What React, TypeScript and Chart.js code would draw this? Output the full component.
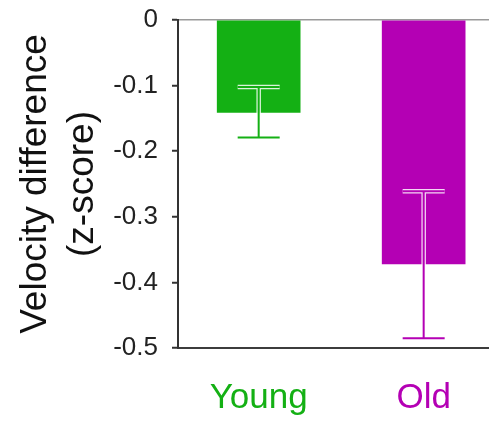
import React, { useEffect, useRef } from 'react';
import { Chart, registerables } from 'chart.js';

Chart.register(...registerables);

const categories = ['Young', 'Old'];
const meanValues = [-0.141, -0.372];
const errorUpper = [-0.102, -0.261];
const errorLower = [-0.179, -0.485];
const barColors = ['#14b014', '#b400b4'];
const yTickValues = [0, -0.1, -0.2, -0.3, -0.4, -0.5];
const yTitle = ['Velocity difference', '(z-score)'];

const FONT = "'Liberation Sans', Arial, Helvetica, sans-serif";

const errorBarPlugin = {
  id: 'errorBars',
  afterDatasetsDraw(chart: any) {
    const { ctx, scales } = chart;
    const xs = scales.x;
    const ys = scales.y;
    const capHalf = 21;
    ctx.save();
    categories.forEach((_, i) => {
      const x = xs.getPixelForValue(i);
      const yT = ys.getPixelForValue(errorUpper[i]);
      const yB = ys.getPixelForValue(errorLower[i]);
      const path = () => {
        ctx.beginPath();
        ctx.moveTo(x - capHalf, yT);
        ctx.lineTo(x + capHalf, yT);
        ctx.moveTo(x, yT);
        ctx.lineTo(x, yB);
        ctx.moveTo(x - capHalf, yB);
        ctx.lineTo(x + capHalf, yB);
      };
      path();
      ctx.strokeStyle = 'rgba(255,255,255,0.85)';
      ctx.lineWidth = 4.5;
      ctx.lineCap = 'butt';
      ctx.stroke();
      path();
      ctx.strokeStyle = barColors[i];
      ctx.lineWidth = 2;
      ctx.stroke();
    });
    ctx.restore();
  },
};

export default function App() {
  const ref = useRef<HTMLCanvasElement | null>(null);

  useEffect(() => {
    if (!ref.current) return;
    const chart = new Chart(ref.current, {
      type: 'bar',
      data: {
        datasets: [
          {
            data: meanValues.map((v, i) => ({ x: i, y: v })),
            backgroundColor: barColors,
            borderWidth: 0,
            barThickness: 83,
          },
        ],
      },
      options: {
        animation: false,
        responsive: false,
        devicePixelRatio: 1,
        layout: { padding: { top: 20, left: 0, right: 0, bottom: 0 } },
        plugins: {
          legend: { display: false },
          tooltip: { enabled: false },
        },
        scales: {
          x: {
            type: 'linear',
            offset: false,
            min: -0.489,
            max: 1.396,
            afterBuildTicks: (scale: any) => {
              scale.ticks = categories.map((_, i) => ({ value: i }));
            },
            afterFit: (scale: any) => {
              scale.height = 73;
              scale.paddingLeft = 0;
              scale.paddingRight = 0;
            },
            ticks: {
              autoSkip: false,
              maxRotation: 0,
              padding: 29,
              font: { family: FONT, size: 35 },
              color: (c: any) => barColors[c.index] || '#000',
              callback: (v: any) => categories[v as number],
            },
            grid: { offset: false, drawOnChartArea: false, drawTicks: false },
            border: { display: true, color: '#3c3c3c', width: 2 },
          },
          y: {
            type: 'linear',
            min: -0.5,
            max: 0,
            afterBuildTicks: (scale: any) => {
              scale.ticks = yTickValues.map((v) => ({ value: v }));
            },
            afterFit: (scale: any) => {
              scale.width = 178;
              scale.paddingTop = 0;
              scale.paddingBottom = 0;
            },
            ticks: {
              padding: 14,
              font: { family: FONT, size: 26 },
              color: '#222',
              callback: (v: any) => String(v),
            },
            grid: {
              drawOnChartArea: true,
              color: (c: any) => (c.tick && c.tick.value === 0 ? '#9a9a9a' : 'rgba(0,0,0,0)'),
              lineWidth: 1.5,
              tickColor: '#333',
              tickLength: 6,
              tickWidth: 2,
            },
            border: { display: true, color: '#333', width: 2 },
            title: {
              display: true,
              text: yTitle,
              font: { family: FONT, size: 37, lineHeight: 1.25 },
              color: '#111',
              padding: { top: 13, bottom: 0 },
            },
          },
        },
      },
      plugins: [errorBarPlugin],
    });
    return () => chart.destroy();
  }, []);

  return (
    <div style={{ position: 'absolute', left: 0, top: 0, width: 489, height: 421, background: '#fff' }}>
      <canvas ref={ref} width={489} height={421} style={{ display: 'block', width: 489, height: 421 }} />
    </div>
  );
}
